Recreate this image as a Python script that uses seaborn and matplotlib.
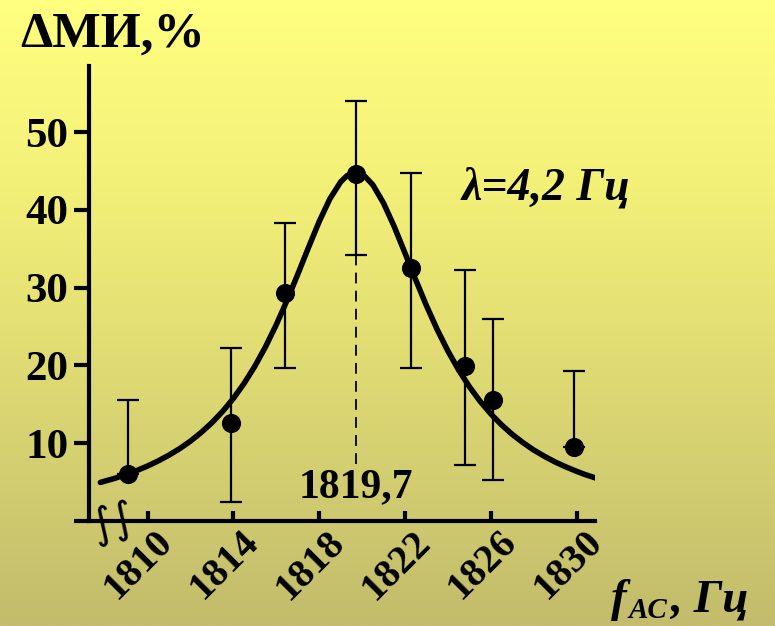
import numpy as np
import pandas as pd
import matplotlib.pyplot as plt
import matplotlib.transforms as mtransforms
import seaborn as sns

# measured points: acoustic frequency (Hz) vs change of MI (%)
freq = [1809.1, 1813.9, 1816.4, 1819.7, 1822.3, 1824.8, 1826.1, 1829.9]
dmi = [6.0, 12.6, 29.3, 44.6, 32.5, 19.9, 15.6, 9.5]
err_up = [9.6, 9.6, 9.0, 9.4, 12.2, 12.4, 10.4, 9.8]
err_down = [0.0, 10.2, 9.6, 10.4, 12.8, 12.7, 10.3, 0.0]

# resonance curve
curve_f = [1807.8, 1808.5, 1809, 1809.5, 1810, 1810.5, 1811, 1811.5, 1812, 1812.5,
           1813, 1813.5, 1814, 1814.5, 1815, 1815.5, 1816, 1816.5, 1817, 1817.5,
           1818, 1818.5, 1819, 1819.3, 1819.7, 1820.1, 1820.5, 1821, 1821.5, 1822,
           1822.5, 1823, 1823.5, 1824, 1824.5, 1825, 1825.5, 1826, 1826.5, 1827,
           1827.5, 1828, 1828.5, 1829, 1829.5, 1830, 1830.4, 1830.9]
curve_v = [4.96, 5.51, 5.98, 6.49, 7.07, 7.73, 8.47, 9.31, 10.27, 11.38,
           12.64, 14.09, 15.76, 17.69, 19.89, 22.40, 25.23, 28.35, 31.70, 35.15,
           38.49, 41.42, 43.59, 44.40, 44.80, 44.40, 43.23, 40.88, 37.85, 34.46,
           31.02, 27.70, 24.63, 21.87, 19.43, 17.28, 15.40, 13.78, 12.37, 11.14,
           10.08, 9.13, 8.32, 7.59, 6.96, 6.39, 5.97, 5.52]

peak_f = 1819.7
peak_v = 44.8
x_ticks = [1810, 1814, 1818, 1822, 1826, 1830]
y_ticks = [0, 10, 20, 30, 40, 50]
y_labels = ["", "10", "20", "30", "40", "50"]

sns.set_style("ticks")
plt.rcParams['font.family'] = ['Liberation Serif', 'DejaVu Serif']
plt.rcParams['font.weight'] = 'bold'
plt.rcParams['text.color'] = 'black'
plt.rcParams['xtick.color'] = 'black'
plt.rcParams['ytick.color'] = 'black'
plt.rcParams['axes.edgecolor'] = 'black'

fig = plt.figure(figsize=(7.75, 6.26), dpi=100)

# yellow gradient background
bg = fig.add_axes([0, 0, 1, 1], zorder=-10)
top = np.array([255, 255, 128]) / 255
mid = np.array([243, 240, 120]) / 255
bot = np.array([194, 188, 108]) / 255
grad = np.empty((256, 1, 3))
for i, t in enumerate(np.linspace(0, 1, 256)):
    if t < 0.3:
        grad[i, 0] = top + (mid - top) * (t / 0.3)
    else:
        grad[i, 0] = mid + (bot - mid) * ((t - 0.3) / 0.7)
bg.imshow(grad, aspect='auto', extent=[0, 1, 0, 1])
bg.axis('off')

ax = fig.add_axes([89 / 775, 1 - 521 / 626, (595 - 89) / 775, (521 - 66) / 626])
ax.set_facecolor('none')

pts = pd.DataFrame({"f": freq, "v": dmi})
crv = pd.DataFrame({"f": curve_f, "v": curve_v})

ax.plot([peak_f, peak_f], [7.3, peak_v], color='black', lw=1.3, ls=(0, (6, 4)), zorder=1)
ax.errorbar(freq, dmi, yerr=[err_down, err_up], fmt='none', ecolor='black',
            elinewidth=1.6, capsize=8, capthick=1.6, zorder=2)
sns.lineplot(data=crv, x="f", y="v", color='black', lw=4, ax=ax, zorder=3)
sns.scatterplot(data=pts, x="f", y="v", color='black', s=190, ax=ax, zorder=4,
                edgecolor='black', linewidth=0)

ax.set_xlim(1807.27, 1830.86)
ax.set_ylim(0, 58.5)
ax.set_xlabel("")
ax.set_ylabel("")

for side in ['top', 'right']:
    ax.spines[side].set_visible(False)
for side in ['left', 'bottom']:
    ax.spines[side].set_linewidth(3)

ax.set_yticks(y_ticks)
ax.set_yticklabels(y_labels, fontsize=31, fontweight='bold')
ax.tick_params(axis='y', length=11, width=3, pad=4, direction='out')

ax.set_xticks(x_ticks)
ax.set_xticklabels([str(v) for v in x_ticks], fontsize=29, fontweight='bold',
                   rotation=45, ha='right', va='center', rotation_mode='anchor')
ax.tick_params(axis='x', length=7, width=3, pad=4, direction='in')
offset = mtransforms.ScaledTranslation(20 / 100, -10 / 100, fig.dpi_scale_trans)
for lab in ax.get_xticklabels():
    lab.set_transform(lab.get_transform() + offset)

# axis break marks
fig.text(113 / 775, 1 - 522 / 626, "∫∫", family='DejaVu Sans', fontsize=30,
         fontweight='normal', ha='center', va='center', rotation=15)

ax.text(peak_f, 3.0, "1819,7", fontsize=30, fontweight='bold', ha='center', va='baseline')

fig.text(20 / 775, 1 - 47 / 626, "ΔМИ,%", fontsize=37, fontweight='bold', ha='left', va='baseline')
fig.text(462 / 775, 1 - 200 / 626, "λ=4,2 Гц", fontsize=33, fontweight='bold',
         style='italic', ha='left', va='baseline')

fig.text(611 / 775, 1 - 611 / 626, "f", fontsize=34, fontweight='bold', style='italic',
         ha='left', va='baseline')
fig.text(629 / 775, 1 - 618 / 626, "AC", fontsize=21, fontweight='bold', style='italic',
         ha='left', va='baseline')
fig.text(670 / 775, 1 - 611 / 626, ", Гц", fontsize=34, fontweight='bold', style='italic',
         ha='left', va='baseline')

fig.savefig("out.png", dpi=100)
